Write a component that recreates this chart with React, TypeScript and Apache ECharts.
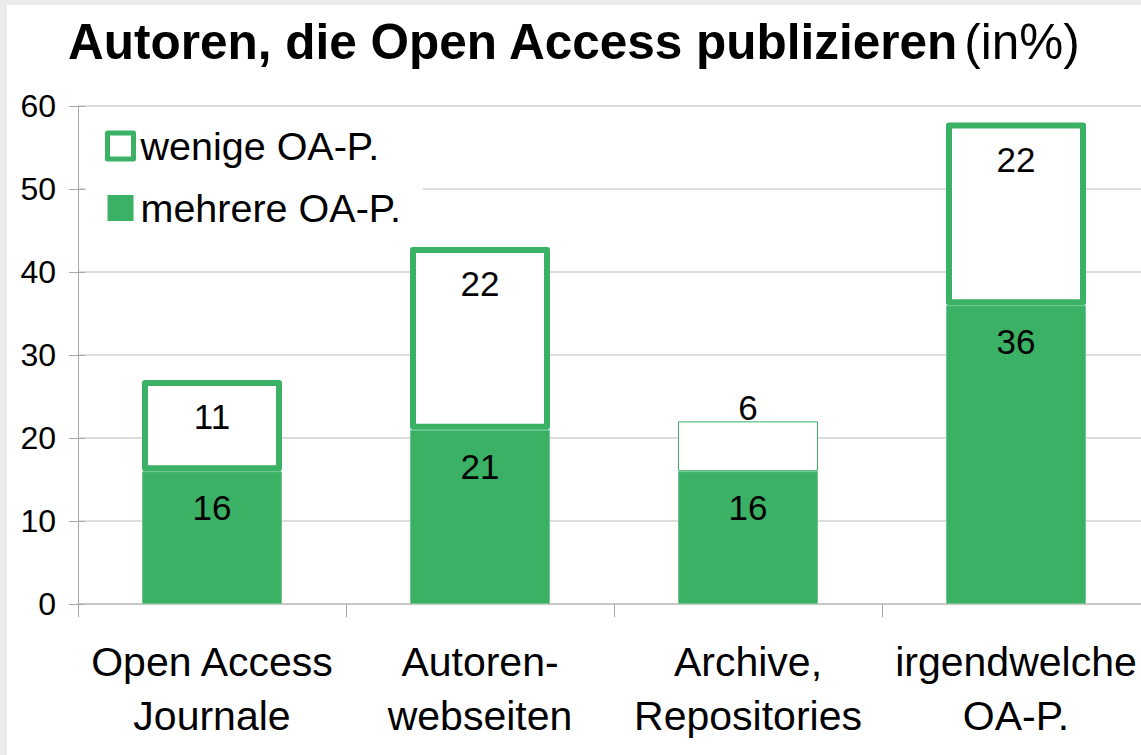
import React, { useEffect, useRef } from "react";
import * as echarts from "echarts";

const categories = [
  "Open Access\nJournale",
  "Autoren-\nwebseiten",
  "Archive,\nRepositories",
  "irgendwelche\nOA-P.",
];
const mehrere = [16, 21, 16, 36];
const wenige = [11, 22, 6, 22];
const yTicks = { min: 0, max: 60, interval: 10 };
const seriesNames = ["wenige OA-P.", "mehrere OA-P."];

const GREEN = "#3bb166";
const FONT = "'Liberation Sans', Arial, Helvetica, sans-serif";

export default function App() {
  const ref = useRef<HTMLDivElement>(null);

  useEffect(() => {
    if (!ref.current) return;
    const chart = echarts.init(ref.current, undefined, { renderer: "svg" });
    const option: any = {
      animation: false,
      backgroundColor: "#ffffff",
      textStyle: { fontFamily: FONT, color: "#000" },
      title: {
        left: 61,
        top: 12,
        padding: 0,
        text: "{b|Autoren, die Open Access publizieren} {n|(in%)}",
        textStyle: {
          rich: {
            b: { fontSize: 49.5, fontWeight: "bold", fontFamily: FONT, color: "#000", lineHeight: 48 },
            n: { fontSize: 49.5, fontWeight: "normal", fontFamily: FONT, color: "#000", lineHeight: 48 },
          },
        },
      },
      legend: {
        orient: "vertical",
        left: 79,
        top: 111,
        padding: [10, 22, 10, 19],
        backgroundColor: "#ffffff",
        itemWidth: 26,
        itemHeight: 26,
        itemGap: 22,
        selectedMode: false,
        textStyle: { fontSize: 39.5, fontFamily: FONT, color: "#000", lineHeight: 39, padding: [0, 0, 0, 2] },
        data: [
          { name: seriesNames[0], icon: "rect", itemStyle: { color: "#ffffff", borderColor: GREEN, borderWidth: 5 } },
          { name: seriesNames[1], icon: "rect", itemStyle: { color: GREEN, borderWidth: 0 } },
        ],
      },
      grid: { left: 71, right: 0, top: 101, bottom: 151, containLabel: false },
      xAxis: {
        type: "category",
        data: categories,
        axisLine: { show: true, lineStyle: { color: "#c8c8c8", width: 2 } },
        axisTick: { show: true, alignWithLabel: false, length: 13, lineStyle: { color: "#a8a8a8", width: 1 } },
        axisLabel: {
          interval: 0,
          margin: 31,
          fontSize: 41,
          lineHeight: 54,
          color: "#000",
          fontFamily: FONT,
        },
      },
      yAxis: [
        {
          type: "value",
          min: yTicks.min,
          max: yTicks.max,
          interval: yTicks.interval,
          axisLine: { show: true, lineStyle: { color: "#a8a8a8", width: 1 } },
          axisTick: { show: true, inside: false, length: 9, lineStyle: { color: "#a8a8a8" } },
          axisLabel: { margin: 22, fontSize: 32, color: "#000", fontFamily: FONT },
          splitLine: { show: true, lineStyle: { color: "#d2d2d2", width: 1.5 } },
        },
        {
          type: "value",
          position: "left",
          min: yTicks.min,
          max: yTicks.max,
          interval: yTicks.interval,
          axisLine: { show: false },
          axisTick: { show: true, inside: true, length: 7, lineStyle: { color: "#a8a8a8" } },
          axisLabel: { show: false },
          splitLine: { show: false },
        },
      ],
      series: [
        {
          name: seriesNames[1],
          type: "bar",
          stack: "total",
          barWidth: 140,
          data: mehrere,
          itemStyle: { color: GREEN, borderColor: "#72c791", borderWidth: 1 },
          label: {
            show: true,
            position: "insideTop",
            distance: 19,
            fontSize: 35,
            color: "#000",
            fontFamily: FONT,
          },
          z: 2,
        },
        {
          name: seriesNames[0],
          type: "bar",
          stack: "total",
          barWidth: 140,
          data: wenige.map((v, i) =>
            i === 2
              ? {
                  value: v,
                  itemStyle: { color: "#ffffff", borderColor: GREEN, borderWidth: 1 },
                  label: { position: "top", distance: 0, offset: [0, 4] },
                }
              : v
          ),
          itemStyle: { color: "#ffffff", borderColor: GREEN, borderWidth: 6, borderJoin: "round" },
          label: {
            show: true,
            position: "insideTop",
            distance: 19,
            fontSize: 35,
            color: "#000",
            fontFamily: FONT,
          },
          z: 3,
        },
      ],
    };
    chart.setOption(option);
    return () => chart.dispose();
  }, []);

  return (
    <div
      style={{
        position: "fixed",
        left: 0,
        top: 0,
        width: 1141,
        height: 755,
        overflow: "hidden",
        background: "#ebebeb",
      }}
    >
      <div
        ref={ref}
        style={{ position: "absolute", left: 7, top: 5, width: 1143, height: 750, background: "#fff" }}
      />
    </div>
  );
}
